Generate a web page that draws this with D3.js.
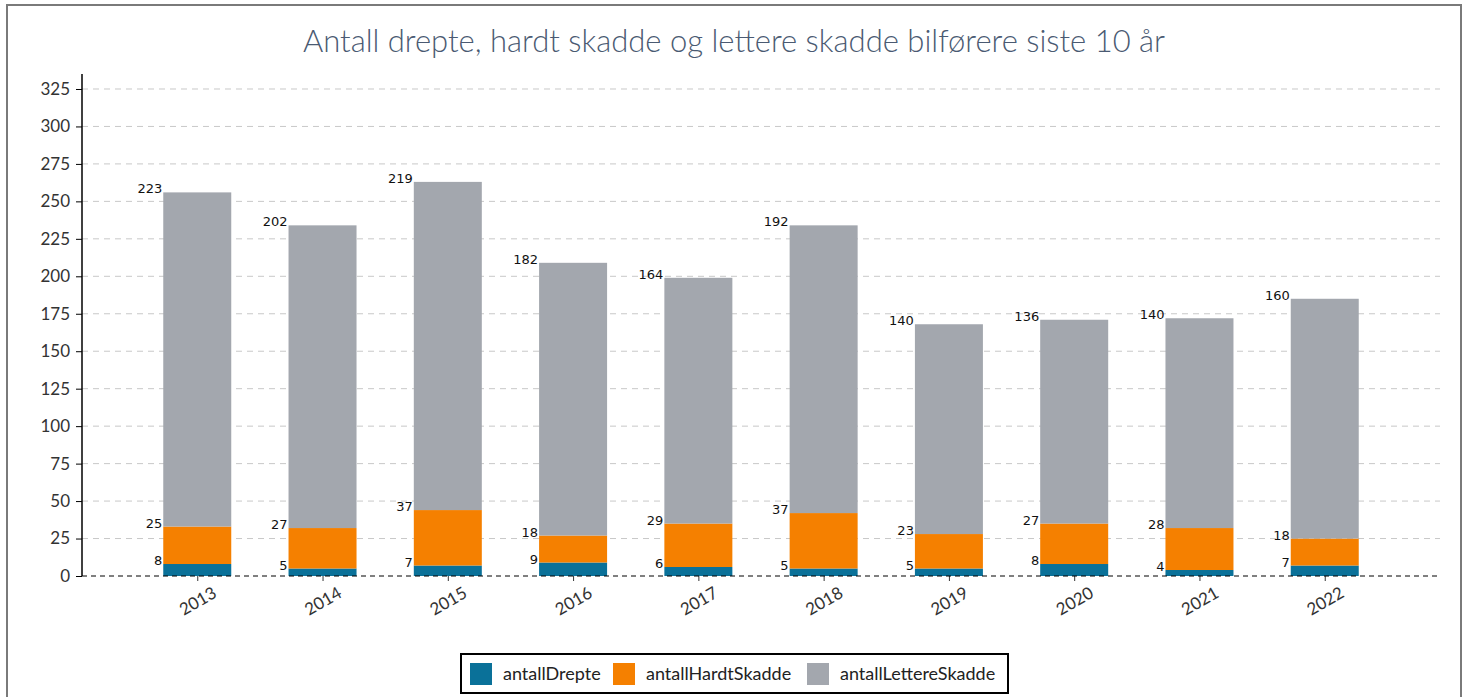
<!DOCTYPE html>
<html>
<head>
<meta charset="utf-8">
<script src="https://cdn.jsdelivr.net/npm/d3@7"></script>
<style>
  body { margin: 0; background: #fff; }
  #chart { width: 1468px; height: 697px; }
  text { font-family: Lato, "Open Sans", sans-serif; }
</style>
</head>
<body>
<div id="chart"></div>
<script>
// chart data
let years = ["2013", "2014", "2015", "2016", "2017", "2018", "2019", "2020", "2021", "2022"];
let antallDrepte = [8, 5, 7, 9, 6, 5, 5, 8, 4, 7];
let antallHardtSkadde = [25, 27, 37, 18, 29, 37, 23, 27, 28, 18];
let antallLettereSkadde = [223, 202, 219, 182, 164, 192, 140, 136, 140, 160];
let seriesNames = ["antallDrepte", "antallHardtSkadde", "antallLettereSkadde"];
let seriesColors = ["#0a7199", "#f58000", "#a3a7ae"];
let yTicks = [0, 25, 50, 75, 100, 125, 150, 175, 200, 225, 250, 275, 300, 325];

let W = 1468, H = 697;
let margin = { top: 74, right: 28, bottom: 121, left: 82 };

let svg = d3.select("#chart").append("svg")
  .attr("width", W)
  .attr("height", H);

// outer frame
svg.append("rect")
  .attr("x", 7).attr("y", 5)
  .attr("width", 1454).attr("height", 700)
  .attr("fill", "none")
  .attr("stroke", "#7a7a7a")
  .attr("stroke-width", 2);

svg.append("text")
  .attr("x", 734).attr("y", 52)
  .attr("text-anchor", "middle")
  .style("font-size", "31px")
  .style("font-weight", 300)
  .style("fill", "#4a5a72")
  .text("Antall drepte, hardt skadde og lettere skadde bilførere siste 10 år");

// rows for the stack
let rows = years.map((y, i) => ({
  year: y,
  antallDrepte: antallDrepte[i],
  antallHardtSkadde: antallHardtSkadde[i],
  antallLettereSkadde: antallLettereSkadde[i]
}));
let stacked = d3.stack().keys(seriesNames)(rows);

let x0 = margin.left, x1 = W - margin.right;
let y0 = 576, y1 = margin.top;

let xScale = d3.scalePoint().domain(years).range([x0, x1]).padding(0.92);
let yScale = d3.scaleLinear().domain([0, 335]).range([y0, y1]);
let barW = 68;

// grid
svg.append("g")
  .selectAll("line")
  .data(yTicks.filter(d => d > 0))
  .join("line")
  .attr("x1", x0).attr("x2", x1)
  .attr("y1", d => yScale(d)).attr("y2", d => yScale(d))
  .attr("stroke", "#c8c8c8")
  .attr("stroke-width", 1)
  .attr("stroke-dasharray", "6,5");

// y axis
let yAxis = svg.append("g")
  .attr("transform", `translate(${x0},0)`)
  .call(d3.axisLeft(yScale).tickValues(yTicks).tickSize(6).tickPadding(6));
yAxis.select(".domain").attr("stroke", "#000").attr("stroke-width", 1.5)
  .attr("d", `M0,${y1}V${y0}`);
yAxis.selectAll(".tick line").attr("stroke", "#000");
yAxis.selectAll(".tick text")
  .style("font-size", "17px")
  .style("fill", "#333")
  .style("font-family", "Lato, sans-serif");

// bars
let layers = svg.append("g").selectAll("g")
  .data(stacked)
  .join("g")
  .attr("fill", (d, i) => seriesColors[i]);

layers.selectAll("rect")
  .data(d => d)
  .join("rect")
  .attr("x", d => xScale(d.data.year) - barW / 2)
  .attr("y", d => yScale(d[1]))
  .attr("width", barW)
  .attr("height", d => yScale(d[0]) - yScale(d[1]));

// value labels at top-left of each segment
layers.selectAll("text")
  .data((d, i) => d.map(p => ({ p: p, key: d.key })))
  .join("text")
  .attr("x", d => xScale(d.p.data.year) - barW / 2 - 1)
  .attr("y", d => yScale(d.p[1]) + 1)
  .attr("text-anchor", "end")
  .style("font-size", "13px")
  .style("font-family", "'DejaVu Sans', sans-serif")
  .style("fill", "#111")
  .text(d => d.p.data[d.key]);

// x axis
let xAxis = svg.append("g")
  .attr("transform", `translate(0,${y0})`)
  .call(d3.axisBottom(xScale).tickSize(5).tickPadding(14));
xAxis.select(".domain").remove();
svg.append("line")
  .attr("x1", x0).attr("x2", x1)
  .attr("y1", y0).attr("y2", y0)
  .attr("stroke", "#000")
  .attr("stroke-width", 1)
  .attr("stroke-dasharray", "5,4");
xAxis.selectAll(".tick line").attr("stroke", "#333");
xAxis.selectAll(".tick text")
  .style("font-size", "17px")
  .style("fill", "#333")
  .style("font-family", "Lato, sans-serif")
  .attr("text-anchor", "middle")
  .attr("y", 0)
  .attr("dy", "0.35em")
  .attr("transform", "translate(0,25) rotate(-30)");

// legend
let legend = svg.append("g");
legend.append("rect")
  .attr("x", 461).attr("y", 654)
  .attr("width", 547).attr("height", 39)
  .attr("fill", "#fff")
  .attr("stroke", "#000")
  .attr("stroke-width", 2);
let legendX = [470, 613, 807];
let items = legend.selectAll("g")
  .data(seriesNames)
  .join("g")
  .attr("transform", (d, i) => `translate(${legendX[i]},663)`);
items.append("rect")
  .attr("width", 22).attr("height", 22)
  .attr("fill", (d, i) => seriesColors[i]);
items.append("text")
  .attr("x", 33).attr("y", 17)
  .style("font-size", "18px")
  .style("fill", "#222")
  .text(d => d);
</script>
</body>
</html>
